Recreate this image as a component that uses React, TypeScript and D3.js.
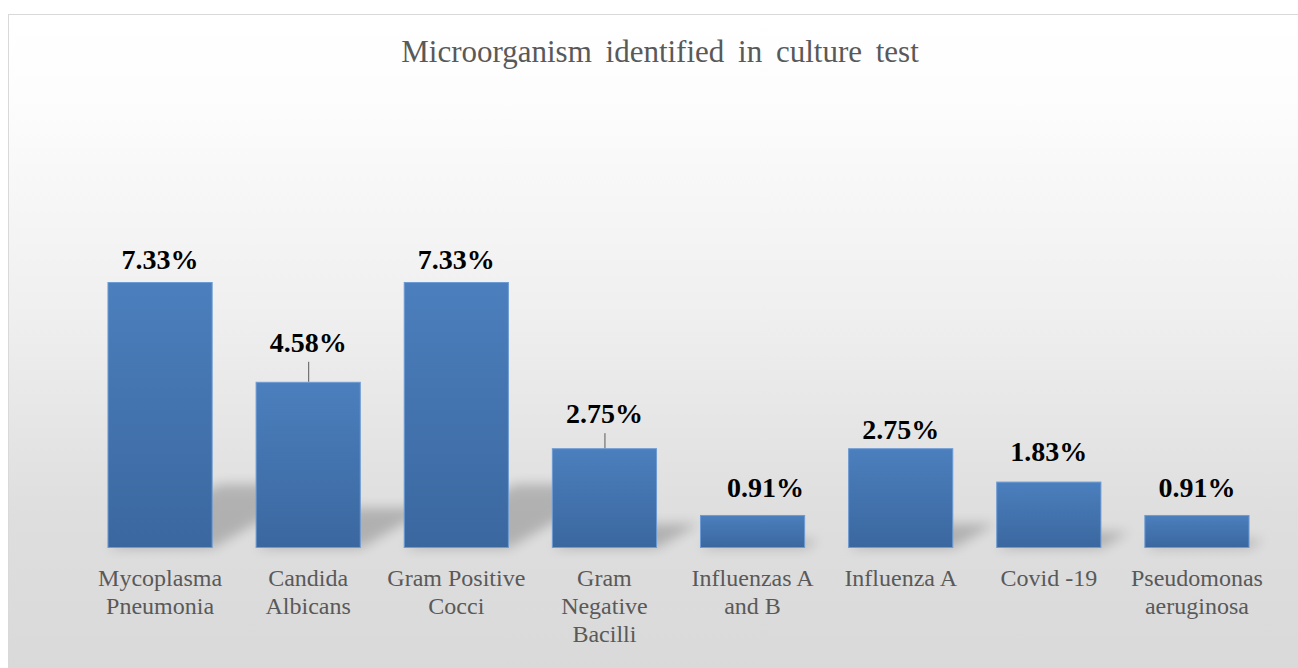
import React from 'react';
import * as d3 from 'd3';

const title = 'Microorganism identified in culture test';
const categories = [
  'Mycoplasma\nPneumonia',
  'Candida\nAlbicans',
  'Gram Positive\nCocci',
  'Gram\nNegative\nBacilli',
  'Influenzas A\nand B',
  'Influenza A',
  'Covid -19',
  'Pseudomonas\naeruginosa',
];
const values = [7.33, 4.58, 7.33, 2.75, 0.91, 2.75, 1.83, 0.91];
const valueLabels = ['7.33%', '4.58%', '7.33%', '2.75%', '0.91%', '2.75%', '1.83%', '0.91%'];

// data label placement as in the source (lift above bar, sideways nudge, leader line)
const labelLift = [13, 30, 13, 25, 18, 9, 21, 18];
const labelShift = [0, 0, 0, 0, 13, 0, 0, 0];
const hasLeader = [false, true, false, true, false, false, false, false];

const W = 1298;
const H = 668;
const baseY = 548;
const font = '"Liberation Serif", "Times New Roman", serif';

const App: React.FC = () => {
  const x = d3.scaleBand<string>()
    .domain(categories)
    .range([86, 1271])
    .paddingInner(0.29)
    .paddingOuter(0.145);

  const y = d3.scaleLinear().domain([0, 8]).range([baseY, baseY - 8 * 36.29]);

  return (
    <svg width={W} height={H} style={{ position: 'absolute', left: 0, top: 0 }}>
      <defs>
        <linearGradient id="bg" x1="0" y1="0" x2="0" y2="1">
          <stop offset="0" stopColor="#ffffff" />
          <stop offset="0.12" stopColor="#fdfdfd" />
          <stop offset="0.45" stopColor="#efefef" />
          <stop offset="0.75" stopColor="#dedede" />
          <stop offset="1" stopColor="#d9d9d9" />
        </linearGradient>
        <linearGradient id="bar" x1="0" y1="0" x2="0" y2="1">
          <stop offset="0" stopColor="#4b7fbd" />
          <stop offset="1" stopColor="#3b679f" />
        </linearGradient>
        <filter id="blur" x="-50%" y="-50%" width="200%" height="200%">
          <feGaussianBlur stdDeviation="6" />
        </filter>
      </defs>

      <rect x={0} y={0} width={W} height={H} fill="#ffffff" />
      <rect x={8.5} y={14.5} width={W} height={H} fill="url(#bg)" stroke="#d9d9d9" />

      <text
        x={660}
        y={62}
        textAnchor="middle"
        fontFamily={font}
        fontSize={31}
        wordSpacing={6}
        fill="#595959"
      >
        {title}
      </text>

      {/* perspective shadows */}
      <g filter="url(#blur)" opacity={0.2}>
        {categories.map((c, i) => {
          const x0 = x(c)!;
          const x1 = x0 + x.bandwidth();
          const h = baseY - y(values[i]);
          const top = baseY - h * 0.24;
          const dx = h * 0.42;
          return (
            <path
              key={c}
              d={`M${x0},${baseY}L${x1},${baseY}L${x1 + dx},${top}L${x0 + dx},${top}Z`}
              fill="#000"
            />
          );
        })}
      </g>

      {categories.map((c, i) => (
        <rect
          key={c}
          x={x(c)! + 0.5}
          y={y(values[i]) + 0.5}
          width={x.bandwidth() - 1}
          height={baseY - y(values[i]) - 1}
          fill="url(#bar)"
          stroke="#6d9bd3"
          strokeWidth={1}
        />
      ))}

      {categories.map((c, i) => {
        const cx = x(c)! + x.bandwidth() / 2;
        const top = y(values[i]);
        return (
          <g key={c}>
            {hasLeader[i] && (
              <line x1={cx + 0.5} x2={cx + 0.5} y1={top - labelLift[i] + 10} y2={top} stroke="#595959" strokeWidth={1} />
            )}
            <text
              x={cx + labelShift[i]}
              y={top - labelLift[i]}
              textAnchor="middle"
              fontFamily={font}
              fontSize={28}
              fontWeight="bold"
              fill="#000000"
            >
              {valueLabels[i]}
            </text>
          </g>
        );
      })}

      {categories.map((c) => {
        const cx = x(c)! + x.bandwidth() / 2;
        return (
          <text key={c} textAnchor="middle" fontFamily={font} fontSize={24} fill="#595959">
            {c.split('\n').map((line, j) => (
              <tspan key={j} x={cx} y={586 + j * 28}>
                {line}
              </tspan>
            ))}
          </text>
        );
      })}
    </svg>
  );
};

export default App;
